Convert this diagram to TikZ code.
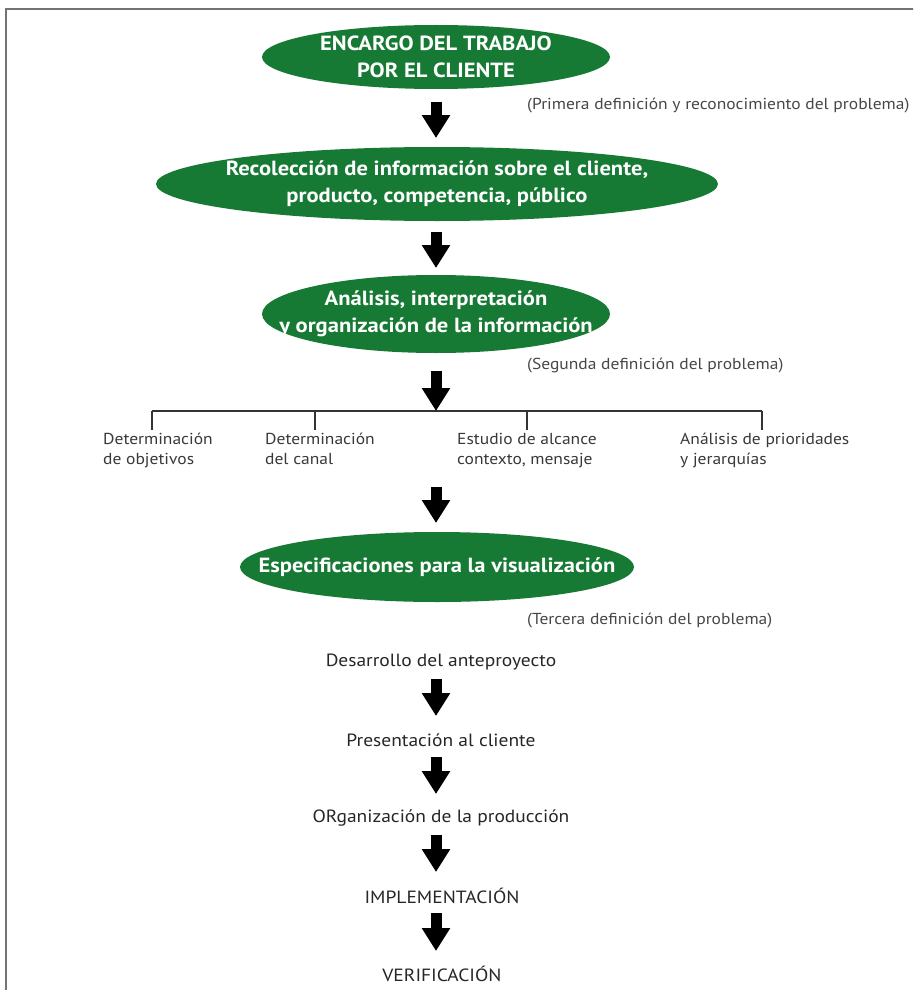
\documentclass[tikz,border=0pt]{standalone}
\usepackage{fontspec}
\setmainfont{PT Sans}[FakeStretch=1.1]
\usetikzlibrary{arrows.meta,shapes.geometric}
\definecolor{egreen}{RGB}{22,122,52}
\definecolor{framegray}{RGB}{115,115,115}
\begin{document}
\begin{tikzpicture}[x=1pt,y=-1pt,
  oval/.style={ellipse, fill=egreen, draw=none, inner sep=0pt},
  ovaltext/.style={text=white, font=\bfseries\fontsize{20.5}{27}\selectfont, align=center, inner sep=0pt},
  plain/.style={font=\fontsize{17.7}{21}\selectfont, inner sep=0pt, text=black!85},
  note/.style={font=\fontsize{15.9}{19}\selectfont, inner sep=0pt, text=black!72, anchor=west},
  branch/.style={font=\fontsize{15.9}{20}\selectfont, inner sep=0pt, text=black!78, align=left, anchor=north west},
  bigarrow/.style={line width=11pt, -{Triangle[width=27pt,length=23pt]}, black},
  tick/.style={line width=1.3pt, black!80}
]
\useasboundingbox (0,0) rectangle (913,990);
\clip (0,0) rectangle (913,990);
% frame
\draw[framegray, line width=2.5pt] (6,1000) -- (6,9) -- (930,9);

% ovals
\node[oval, minimum width=348pt, minimum height=64pt,
  label={[ovaltext]center:{ENCARGO DEL TRABAJO\\POR EL CLIENTE}}] (e1) at (436,57) {};
\node[note] (n1) at (527,106) {(Primera definición y reconocimiento del problema)};

\node[oval, minimum width=562pt, minimum height=74pt,
  label={[ovaltext]center:{Recolección de información sobre el cliente,\\producto, competencia, público}}] (e2) at (437,184) {};

\node[oval, minimum width=348pt, minimum height=78pt,
  label={[ovaltext]center:{Análisis, interpretación\\y organización de la información}}] (e3) at (436,314) {};
\node[note] (n2) at (527,366) {(Segunda definición del problema)};

% branch
\coordinate (bl) at (152,411);
\coordinate (br) at (762,411);
\coordinate (t1) at (152,430);
\coordinate (t2) at (315,430);
\coordinate (t3) at (527,430);
\coordinate (t4) at (762,430);
\draw[tick] (bl) -- (br);
\draw[tick] (bl) -- (t1);
\draw[tick] (t2 |- bl) -- (t2);
\draw[tick] (t3 |- bl) -- (t3);
\draw[tick] (br) -- (t4);
\node[branch] (b1) at (103,433) {Determinación\\de objetivos};
\node[branch] (b2) at (265,433) {Determinación\\del canal};
\node[branch] (b3) at (457,433) {Estudio de alcance\\contexto, mensaje};
\node[branch] (b4) at (680,433) {Análisis de prioridades\\y jerarquías};

\node[oval, minimum width=394pt, minimum height=70pt,
  label={[ovaltext]center:{Especificaciones para la visualización}}] (e4) at (437,567) {};
\node[note] (n3) at (527,621) {(Tercera definición del problema)};

% lower steps
\node[plain] (s1) at (441,662) {Desarrollo del anteproyecto};
\node[plain] (s2) at (441,740) {Presentación al cliente};
\node[plain] (s3) at (441,818) {ORganización de la producción};
\node[plain] (s4) at (442,896) {IMPLEMENTACIÓN};
\node[plain] (s5) at (442,974) {VERIFICACIÓN};

% arrows
\coordinate (ax) at (436,0);
\draw[bigarrow] (ax |- 0,102) -- (ax |- 0,138);
\draw[bigarrow] (ax |- 0,232) -- (ax |- 0,268);
\draw[bigarrow] (ax |- 0,371) -- (ax |- bl);
\draw[bigarrow] (ax |- 0,487) -- (ax |- 0,523);
\draw[bigarrow] (ax |- 0,679) -- (ax |- 0,716);
\draw[bigarrow] (ax |- 0,757) -- (ax |- 0,794);
\draw[bigarrow] (ax |- 0,835) -- (ax |- 0,872);
\draw[bigarrow] (ax |- 0,913) -- (ax |- 0,951);
\end{tikzpicture}
\end{document}
